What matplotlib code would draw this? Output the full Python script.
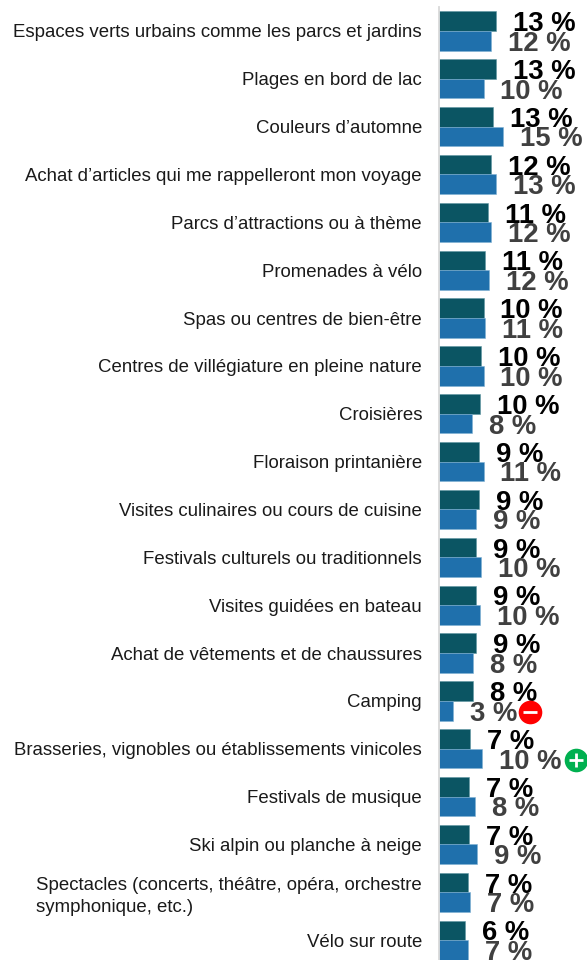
import matplotlib
matplotlib.use('Agg')
import numpy as np
import matplotlib.pyplot as plt

plt.rcParams['font.family'] = ['Liberation Sans', 'DejaVu Sans']

categories = [
    "Espaces verts urbains comme les parcs et jardins",
    "Plages en bord de lac",
    "Couleurs d’automne",
    "Achat d’articles qui me rappelleront mon voyage",
    "Parcs d’attractions ou à thème",
    "Promenades à vélo",
    "Spas ou centres de bien-être",
    "Centres de villégiature en pleine nature",
    "Croisières",
    "Floraison printanière",
    "Visites culinaires ou cours de cuisine",
    "Festivals culturels ou traditionnels",
    "Visites guidées en bateau",
    "Achat de vêtements et de chaussures",
    "Camping",
    "Brasseries, vignobles ou établissements vinicoles",
    "Festivals de musique",
    "Ski alpin ou planche à neige",
    "Spectacles (concerts, théâtre, opéra, orchestre\nsymphonique, etc.)",
    "Vélo sur route",
]
values_dark = [13.1, 13.1, 12.4, 12.0, 11.3, 10.6, 10.3, 9.7, 9.4, 9.2,
               9.2, 8.5, 8.5, 8.5, 7.8, 7.1, 6.9, 6.9, 6.7, 6.0]
values_blue = [12.0, 10.3, 14.7, 13.1, 12.0, 11.5, 10.6, 10.3, 7.6, 10.3,
               8.5, 9.7, 9.4, 7.8, 3.2, 9.9, 8.3, 8.7, 7.1, 6.7]
labels_dark = [13, 13, 13, 12, 11, 11, 10, 10, 10, 9, 9, 9, 9, 9, 8, 7, 7, 7, 7, 6]
labels_blue = [12, 10, 15, 13, 12, 12, 11, 10, 8, 11, 9, 10, 10, 8, 3, 10, 8, 9, 7, 7]

# rows with a significant change marker: row, colour, sign, offset past the bar (px)
flag_rows = [14, 15]
flag_colors = ['#FF0000', '#00B050']
flag_signs = ['_', '+']
flag_offsets = [77, 94]

W, H = 587, 960
fig = plt.figure(figsize=(W / 100, H / 100), dpi=100)
# axes in pixels: left edge at the bars' baseline, rows 47.86 px apart
ax = fig.add_axes([439 / W, -7 / H, 148 / W, 960 / H])
px_per_pct = 4.35
ax.set_xlim(0, 148 / px_per_pct)
ax.set_ylim(19.56, -0.5)

y = np.arange(len(categories))
bar_h = 0.41
bars_dark = ax.barh(y - bar_h / 2, values_dark, height=bar_h, color='#0B5563',
                    edgecolor='#5F97A3', linewidth=0.4)
bars_blue = ax.barh(y + bar_h / 2, values_blue, height=bar_h, color='#1F70AC',
                    edgecolor='#7FB0D3', linewidth=0.4)

texts_dark = ax.bar_label(bars_dark, labels=[f'{v} %' for v in labels_dark], padding=12,
                          fontsize=19.8, fontweight='bold', color='black', clip_on=False)
texts_blue = ax.bar_label(bars_blue, labels=[f'{v} %' for v in labels_blue], padding=12,
                          fontsize=19.8, fontweight='bold', color='#404040', clip_on=False)
for t in list(texts_dark) + list(texts_blue):
    t.set_va('center_baseline')

for row, col, sign, off in zip(flag_rows, flag_colors, flag_signs, flag_offsets):
    xx = values_blue[row] + off / px_per_pct
    yy = row + bar_h / 2 + 0.02
    ax.plot(xx, yy, 'o', ms=17, color=col, mec='none', clip_on=False, zorder=5)
    ax.plot(xx, yy, sign, ms=9.5, color='white', mew=2.0, clip_on=False, zorder=6)

ax.set_yticks(y)
ax.set_yticklabels(categories, fontsize=13.45, color='#1a1a1a', linespacing=1.35)
ax.tick_params(axis='y', length=0, pad=17 * 0.72)
for lab in ax.get_yticklabels():
    # right aligned rows, the wrapped one keeps its lines flush left
    lab.set_multialignment('left')
ax.set_xticks([])
for s in ['top', 'right', 'bottom']:
    ax.spines[s].set_visible(False)
ax.spines['left'].set_color('#D9D9D9')
ax.spines['left'].set_linewidth(1.3)
ax.patch.set_alpha(0)

fig.savefig('out.png', dpi=100)
